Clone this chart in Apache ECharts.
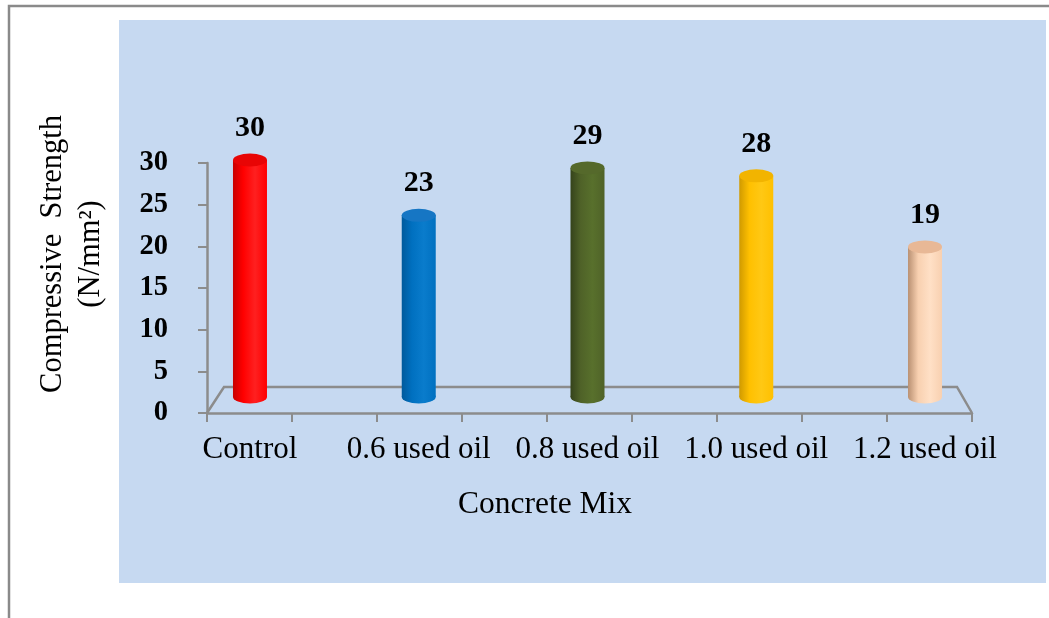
<!DOCTYPE html>
<html>
<head>
<meta charset="utf-8">
<script src="https://cdn.jsdelivr.net/npm/echarts@6/dist/echarts.min.js"></script>
<style>
html, body { margin: 0; padding: 0; background: #fff; }
#chart-panel { width: 1049px; height: 618px; }
</style>
</head>
<body>
<div id="chart-panel"></div>
<script>
var categories = ['Control', '0.6 used oil', '0.8 used oil', '1.0 used oil', '1.2 used oil'];
var strength = [30, 23, 29, 28, 19];
var yMin = 0, yMax = 30, yStep = 5;

// cylinder shades: edge, body, highlight, top face
var shades = [
    ['#c80000', '#ff0000', '#ff2020', '#e80505'],
    ['#005a9c', '#0070c0', '#0a7ccc', '#1676c4'],
    ['#35431b', '#4f6228', '#58702c', '#55692b'],
    ['#d09a00', '#ffc000', '#ffc814', '#f2b400'],
    ['#b99072', '#f8d0b0', '#ffe0c6', '#e8b896']
];

var serif = '"Liberation Serif", "Times New Roman", serif';
var grey = '#8c8c8c';
var barW = 34;

function cylinder(s) {
    return new echarts.graphic.LinearGradient(0, 0, 1, 0, [
        { offset: 0, color: s[0] },
        { offset: 0.3, color: s[1] },
        { offset: 0.65, color: s[2] },
        { offset: 1, color: s[1] }
    ]);
}

var bodyData = strength.map(function (v, i) {
    return { value: v, itemStyle: { color: cylinder(shades[i]) } };
});
var topData = strength.map(function (v, i) {
    return { value: v, itemStyle: { color: shades[i][3] } };
});
var baseData = strength.map(function (v, i) {
    return { value: v, itemStyle: { color: cylinder(shades[i]) } };
});

var option = {
    animation: false,
    backgroundColor: '#fff',
    graphic: [
        {
            type: 'rect', z: -10,
            shape: { x: 9, y: 6, width: 1100, height: 700 },
            style: { fill: '#fff', stroke: '#8a8a8a', lineWidth: 2.5 }
        },
        {
            type: 'rect', z: -9,
            shape: { x: 119, y: 20, width: 927, height: 563 },
            style: { fill: '#c6d9f1' }
        },
        {
            // floor outline (back edge and the two sides)
            type: 'polyline', z: -1,
            shape: { points: [[207, 413], [224, 387], [957, 387], [972, 413]] },
            style: { fill: null, stroke: grey, lineWidth: 2.5 }
        },
        {
            type: 'text', z: 10,
            x: 545, y: 505,
            style: {
                text: 'Concrete Mix',
                fontSize: 31.5, fontFamily: serif, fill: '#000',
                align: 'center', verticalAlign: 'middle',
                textAlign: 'center', textVerticalAlign: 'middle'
            }
        },
        {
            type: 'text', z: 10,
            x: 72, y: 254, rotation: Math.PI / 2,
            style: {
                text: 'Compressive  Strength\n(N/mm²)',
                fontSize: 30.5, fontFamily: serif, fill: '#000', lineHeight: 38,
                align: 'center', verticalAlign: 'middle',
                textAlign: 'center', textVerticalAlign: 'middle'
            }
        }
    ],
    grid: [
        { left: 165.6, right: 39.6, top: 160, bottom: 221, outerBoundsMode: 'none' },
        { left: 207, right: 77, top: 163, bottom: 205, outerBoundsMode: 'none' }
    ],
    xAxis: [
        {
            type: 'category', gridIndex: 0, data: categories,
            axisLine: { show: false }, axisTick: { show: false },
            axisLabel: { interval: 0, hideOverlap: false, fontSize: 31, fontFamily: serif, color: '#000', margin: 37 }
        },
        {
            type: 'value', gridIndex: 1, min: 0, max: 9, interval: 1,
            axisLine: { show: true, lineStyle: { color: grey, width: 2.5 } },
            axisTick: { show: true, length: 9, lineStyle: { color: grey, width: 2 } },
            axisLabel: { show: false },
            splitLine: { show: false }
        }
    ],
    yAxis: [
        { type: 'value', gridIndex: 0, min: yMin, max: yMax, show: false },
        {
            type: 'value', gridIndex: 1, min: yMin, max: yMax, interval: yStep, offset: 6,
            axisLine: { show: true, lineStyle: { color: grey, width: 2.5 } },
            axisTick: { show: true, length: 9, lineStyle: { color: grey, width: 2 } },
            axisLabel: { fontSize: 28.5, fontWeight: 'bold', fontFamily: serif, color: '#000', margin: 33 },
            splitLine: { show: false }
        }
    ],
    series: [
        {
            type: 'pictorialBar', xAxisIndex: 0, yAxisIndex: 0, z: 1,
            symbol: 'circle', symbolSize: [barW, 13], symbolOffset: [0, '50%'],
            data: baseData
        },
        {
            type: 'bar', xAxisIndex: 0, yAxisIndex: 0, z: 2,
            barWidth: barW,
            label: {
                show: true, position: 'top', distance: 17,
                fontSize: 30, fontWeight: 'bold', fontFamily: serif, color: '#000'
            },
            data: bodyData
        },
        {
            type: 'pictorialBar', xAxisIndex: 0, yAxisIndex: 0, z: 3,
            symbol: 'circle', symbolSize: [barW, 13], symbolOffset: [0, '-50%'],
            symbolPosition: 'end',
            data: topData
        }
    ]
};

var chart = echarts.init(document.getElementById('chart-panel'));
chart.setOption(option);
</script>
</body>
</html>
